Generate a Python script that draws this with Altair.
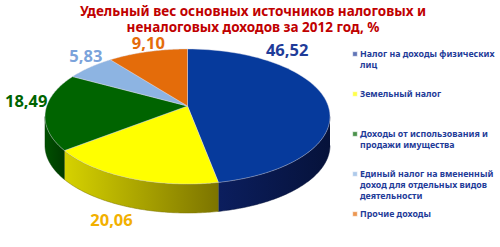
import altair as alt
import numpy as np
import pandas as pd

# ---------------- data ----------------
categories = [
    "Налог на доходы физических лиц",
    "Земельный налог",
    "Доходы от использования и продажи имущества",
    "Единый налог на вмененный доход для отдельных видов деятельности",
    "Прочие доходы",
]
legend_text = [
    "Налог на доходы физических\nлиц",
    "Земельный налог",
    "Доходы от использования и\nпродажи имущества",
    "Единый налог на вмененный\nдоход для отдельных видов\nдеятельности",
    "Прочие доходы",
]
values = [46.52, 20.06, 18.49, 5.83, 9.10]
value_labels = ["46,52", "20,06", "18,49", "5,83", "9,10"]
title_lines = ["Удельный вес основных источников налоговых и",
               "неналоговых доходов за 2012 год, %"]

# ---------------- style ----------------
top_colors = ["#063A9C", "#FFFF00", "#006400", "#8DB4E2", "#E46C0A"]
side_grad = [("#0B1E5E", "#06123A"), ("#D6D200", "#7C7400"), ("#005000", "#003A00"),
             ("#6F8FB8", "#4D6A90"), ("#B85608", "#8A3F05")]
label_colors = ["#1F3C99", "#F2B000", "#006400", "#7BA3DB", "#E46C0A"]
legend_sq = ["#1F3C99", "#FFFF00", "#006400", "#8DB4E2", "#E46C0A"]
label_nudge_px = [(-42, -58), (-19, 43), (-19, -11), (-4, -10), (1, -8)]

W, H = 500, 247
CX, CY, A, B = 187.5, 116.5, 142.5, 67.5   # ellipse layout in px
DEPTH = 29
APEX_V = 0.155
N = 80

d = DEPTH / B
xdom = [-CX / A, (W - CX) / A]
ydom = [(CY - H) / B, CY / B]
xs = alt.Scale(domain=xdom, nice=False, zero=False)
ys = alt.Scale(domain=ydom, nice=False, zero=False)

frac = np.array(values) / sum(values)
ends = np.cumsum(frac) * 360.0
starts = ends - frac * 360.0


def enc(ch):
    return ch.encode(
        x=alt.X("u:Q", scale=xs, axis=None),
        y=alt.Y("v:Q", scale=ys, axis=None),
        order=alt.Order("i:Q"),
    )


layers = []
# sides (front half only: 90..270 degrees)
for k in range(len(values)):
    s, e = max(starts[k], 90.0), min(ends[k], 270.0)
    if e <= s:
        continue
    th = np.radians(np.linspace(s, e, N))
    u = np.concatenate([np.sin(th), np.sin(th[::-1])])
    v = np.concatenate([np.cos(th), np.cos(th[::-1]) - d])
    df = pd.DataFrame({"u": u, "v": v, "i": np.arange(len(u))})
    g = alt.Gradient(gradient="linear",
                     stops=[alt.GradientStop(color=side_grad[k][0], offset=0),
                            alt.GradientStop(color=side_grad[k][1], offset=1)],
                     x1=0, x2=1, y1=0, y2=0)
    layers.append(enc(alt.Chart(df).mark_line(fill=g, stroke=side_grad[k][1], strokeWidth=0.5)))

# top faces
for k in range(len(values)):
    th = np.radians(np.linspace(starts[k], ends[k], N))
    u = np.concatenate([[0.0], np.sin(th), [0.0]])
    v = np.concatenate([[APEX_V], np.cos(th), [APEX_V]])
    df = pd.DataFrame({"u": u, "v": v, "i": np.arange(len(u))})
    layers.append(enc(alt.Chart(df).mark_line(fill=top_colors[k], stroke="#D8D8E8",
                                              strokeWidth=0.6, strokeOpacity=0.7)))

# value labels
mids = np.radians((starts + ends) / 2)
lab = pd.DataFrame({
    "u": np.sin(mids) + np.array([p[0] for p in label_nudge_px]) / A,
    "v": np.cos(mids) - np.array([p[1] for p in label_nudge_px]) / B,
    "t": value_labels,
    "c": categories,
})
layers.append(alt.Chart(lab).mark_text(font="Noto Sans", fontWeight="bold", fontSize=16.5).encode(
    x=alt.X("u:Q", scale=xs, axis=None),
    y=alt.Y("v:Q", scale=ys, axis=None),
    text="t:N",
    color=alt.Color("c:N", scale=alt.Scale(domain=categories, range=label_colors), legend=None),
))

# legend
leg = pd.DataFrame({"c": categories, "t": legend_text})
ly = alt.Y("c:N", scale=alt.Scale(domain=categories, range=[54, 214], type="point", padding=0), axis=None)
layers.append(alt.Chart(leg).mark_square(size=22, stroke="#FFFFFF", strokeWidth=0.6).encode(
    x=alt.value(355), y=ly,
    fill=alt.Fill("c:N", scale=alt.Scale(domain=categories, range=legend_sq), legend=None),
))
layers.append(alt.Chart(leg).mark_text(font="Noto Sans", fontWeight="bold", fontSize=8.8, align="left",
                                       baseline="middle", lineBreak="\n", lineHeight=10.8,
                                       color="#1F3C99").encode(
    x=alt.value(360), y=ly, text="t:N"))

# title (two separate lines)
tdf = pd.DataFrame({"t": title_lines})
layers.append(alt.Chart(tdf).mark_text(font="Noto Sans", fontWeight="bold", fontSize=13.5, align="center",
                                       baseline="middle", color="#C00000").encode(
    x=alt.value(253),
    y=alt.Y("t:N", scale=alt.Scale(domain=title_lines, range=[12, 28], type="point", padding=0), axis=None),
    text="t:N"))

chart = alt.layer(*layers).resolve_scale(y="independent", x="independent", color="independent",
                                         fill="independent").properties(
    width=W, height=H, padding=0, autosize=alt.AutoSizeParams(type="none"),
    background="#FFFFFF",
).configure_view(stroke=None)

chart.save("out.html", embed_options={"renderer": "svg", "actions": False})
